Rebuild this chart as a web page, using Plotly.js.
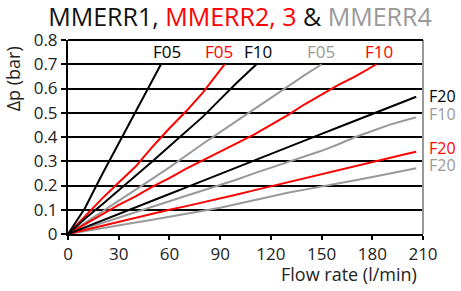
<!DOCTYPE html>
<html>
<head>
<meta charset="utf-8">
<script src="https://cdn.plot.ly/plotly-3.0.1.min.js"></script>
<style>html,body{margin:0;padding:0;background:#fff;}#chart{width:461px;height:291px;}</style>
</head>
<body>
<div id="chart"></div>
<script>
// Flow rate (l/min) and pressure drop (bar)
var m1F05_x = [0, 10, 20, 30, 40, 50, 55];
var m1F05_y = [0, 0.106, 0.243, 0.374, 0.5, 0.636, 0.7];
var m1F10_x = [0, 10, 20, 30, 40, 50, 60, 70, 80, 90, 100, 111.5];
var m1F10_y = [0, 0.063, 0.121, 0.18, 0.24, 0.3, 0.362, 0.424, 0.485, 0.555, 0.625, 0.7];
var m1F20_x = [0, 10, 20, 30, 40, 50, 60, 70, 80, 90, 100, 110, 120, 130, 140, 150, 160, 170, 180, 190, 200, 206];
var m1F20_y = [0, 0.028, 0.056, 0.082, 0.11, 0.137, 0.165, 0.192, 0.22, 0.247, 0.275, 0.303, 0.33, 0.357, 0.386, 0.413, 0.44, 0.467, 0.494, 0.522, 0.55, 0.566];

var m2F05_x = [0, 10, 20, 30, 40, 50, 60, 70, 80, 90, 92.7];
var m2F05_y = [0, 0.072, 0.145, 0.212, 0.278, 0.36, 0.436, 0.507, 0.585, 0.676, 0.7];
var m2F10_x = [0, 10, 20, 30, 40, 50, 60, 70, 80, 90, 100, 110, 120, 130, 140, 150, 160, 170, 180, 182.5];
var m2F10_y = [0, 0.04, 0.08, 0.12, 0.155, 0.195, 0.23, 0.27, 0.305, 0.34, 0.372, 0.41, 0.45, 0.49, 0.535, 0.575, 0.615, 0.65, 0.69, 0.7];
var m2F20_x = [0, 10, 20, 30, 40, 50, 60, 70, 80, 90, 100, 110, 120, 130, 140, 150, 160, 170, 180, 190, 200, 206];
var m2F20_y = [0, 0.017, 0.034, 0.051, 0.068, 0.085, 0.1, 0.115, 0.13, 0.147, 0.163, 0.18, 0.197, 0.213, 0.23, 0.247, 0.263, 0.28, 0.297, 0.314, 0.33, 0.339];

var m4F05_x = [0, 10, 20, 30, 40, 50, 60, 70, 80, 90, 100, 110, 120, 130, 140, 150];
var m4F05_y = [0, 0.045, 0.09, 0.135, 0.18, 0.228, 0.275, 0.325, 0.373, 0.42, 0.467, 0.515, 0.56, 0.61, 0.655, 0.7];
var m4F10_x = [0, 10, 20, 30, 40, 50, 60, 70, 80, 90, 100, 110, 120, 130, 140, 150, 160, 170, 180, 190, 200, 206];
var m4F10_y = [0, 0.022, 0.045, 0.068, 0.09, 0.113, 0.135, 0.158, 0.18, 0.203, 0.225, 0.25, 0.273, 0.297, 0.32, 0.343, 0.37, 0.4, 0.425, 0.45, 0.47, 0.481];
var m4F20_x = [0, 10, 20, 30, 40, 50, 60, 70, 80, 90, 100, 110, 120, 130, 140, 150, 160, 170, 180, 190, 200, 206];
var m4F20_y = [0, 0.011, 0.023, 0.035, 0.047, 0.059, 0.071, 0.083, 0.096, 0.108, 0.124, 0.14, 0.155, 0.17, 0.183, 0.195, 0.208, 0.222, 0.235, 0.248, 0.262, 0.271];

var xTickVals = [0, 30, 60, 90, 120, 150, 180, 210];
var xTickText = ['0', '30', '60', '90', '120', '150', '180', '210'];
var yTickVals = [0, 0.1, 0.2, 0.3, 0.4, 0.5, 0.6, 0.7, 0.8];
var yTickText = ['0', '0.1', '0.2', '0.3', '0.4', '0.5', '0.6', '0.7', '0.8'];

var BLACK = '#000000', RED = '#ff0000', GRAY = '#999999';
var FONT = 'Open Sans, sans-serif';

function tr(x, y, c) {
  return {x: x, y: y, type: 'scatter', mode: 'lines', line: {color: c, width: 2}, hoverinfo: 'skip', showlegend: false};
}
var data = [
  tr(m4F20_x, m4F20_y, GRAY), tr(m4F10_x, m4F10_y, GRAY), tr(m4F05_x, m4F05_y, GRAY),
  tr(m2F20_x, m2F20_y, RED), tr(m2F10_x, m2F10_y, RED), tr(m2F05_x, m2F05_y, RED),
  tr(m1F20_x, m1F20_y, BLACK), tr(m1F10_x, m1F10_y, BLACK), tr(m1F05_x, m1F05_y, BLACK)
];

function lab(text, x, y, c) {
  return {text: text, x: x, y: y, xref: 'x', yref: 'y', showarrow: false,
          xanchor: 'center', yanchor: 'middle', font: {family: FONT, size: 17, color: c}};
}
function rlab(text, y, c) {
  return {text: text, x: 1.015, y: y, xref: 'paper', yref: 'y', showarrow: false, borderpad: 0,
          xanchor: 'left', yanchor: 'middle', font: {family: FONT, size: 16, color: c}};
}
var annotations = [
  lab('F05', 58.4, 0.752, BLACK), lab('F05', 89.5, 0.752, RED), lab('F10', 112.2, 0.752, BLACK),
  lab('F05', 149.5, 0.752, GRAY), lab('F10', 183.8, 0.752, RED),
  rlab('F20', 0.57, BLACK), rlab('F10', 0.495, GRAY),
  rlab('F20', 0.353, RED), rlab('F20', 0.283, GRAY),
  {text: 'Δp (bar)', xref: 'paper', yref: 'paper', x: -0.155, y: 0.98, xanchor: 'center', yanchor: 'top',
   textangle: -90, showarrow: false, font: {family: FONT, size: 18, color: '#222'}},
  {text: 'Flow rate (l/min)', xref: 'paper', yref: 'paper', x: 0.985, y: -0.207, xanchor: 'right', yanchor: 'middle',
   borderpad: 0, showarrow: false, font: {family: FONT, size: 18, color: '#222'}}
];

var layout = {
  width: 461, height: 291,
  margin: {l: 68, r: 38, t: 40, b: 57},
  paper_bgcolor: '#fff', plot_bgcolor: '#fff',
  font: {family: FONT, size: 17, color: '#222'},
  title: {
    text: 'MMERR1, <span style="color:#ff0000">MMERR2, 3</span> &amp; <span style="color:#999999">MMERR4</span>',
    font: {family: FONT, size: 25, color: '#111'},
    x: 240 / 461, xref: 'container', xanchor: 'center',
    y: 1 - 17 / 291, yref: 'container', yanchor: 'middle'
  },
  xaxis: {
    range: [0, 210], tickvals: xTickVals, ticktext: xTickText,
    showgrid: false, zeroline: false, showline: true, linecolor: BLACK, linewidth: 2,
    ticks: 'outside', ticklen: 4, tickwidth: 2, tickcolor: BLACK,
    tickfont: {family: FONT, size: 17, color: '#222'}, fixedrange: true
  },
  yaxis: {
    range: [0, 0.8], tickvals: yTickVals, ticktext: yTickText,
    showgrid: true, gridcolor: BLACK, gridwidth: 2, zeroline: false,
    showline: true, linecolor: BLACK, linewidth: 2,
    ticks: 'outside', ticklen: 5, tickwidth: 2, tickcolor: BLACK,
    tickfont: {family: FONT, size: 17, color: '#222'}, fixedrange: true
  },
  shapes: [
    {type: 'line', xref: 'paper', yref: 'paper', x0: 1, x1: 1, y0: 0, y1: 1, line: {color: GRAY, width: 2}},
    {type: 'line', xref: 'paper', yref: 'paper', x0: 0, x1: 1, y0: 1, y1: 1, line: {color: BLACK, width: 2}}
  ],
  annotations: annotations,
  showlegend: false
};

Plotly.newPlot('chart', data, layout, {staticPlot: true, displayModeBar: false});
</script>
</body>
</html>
